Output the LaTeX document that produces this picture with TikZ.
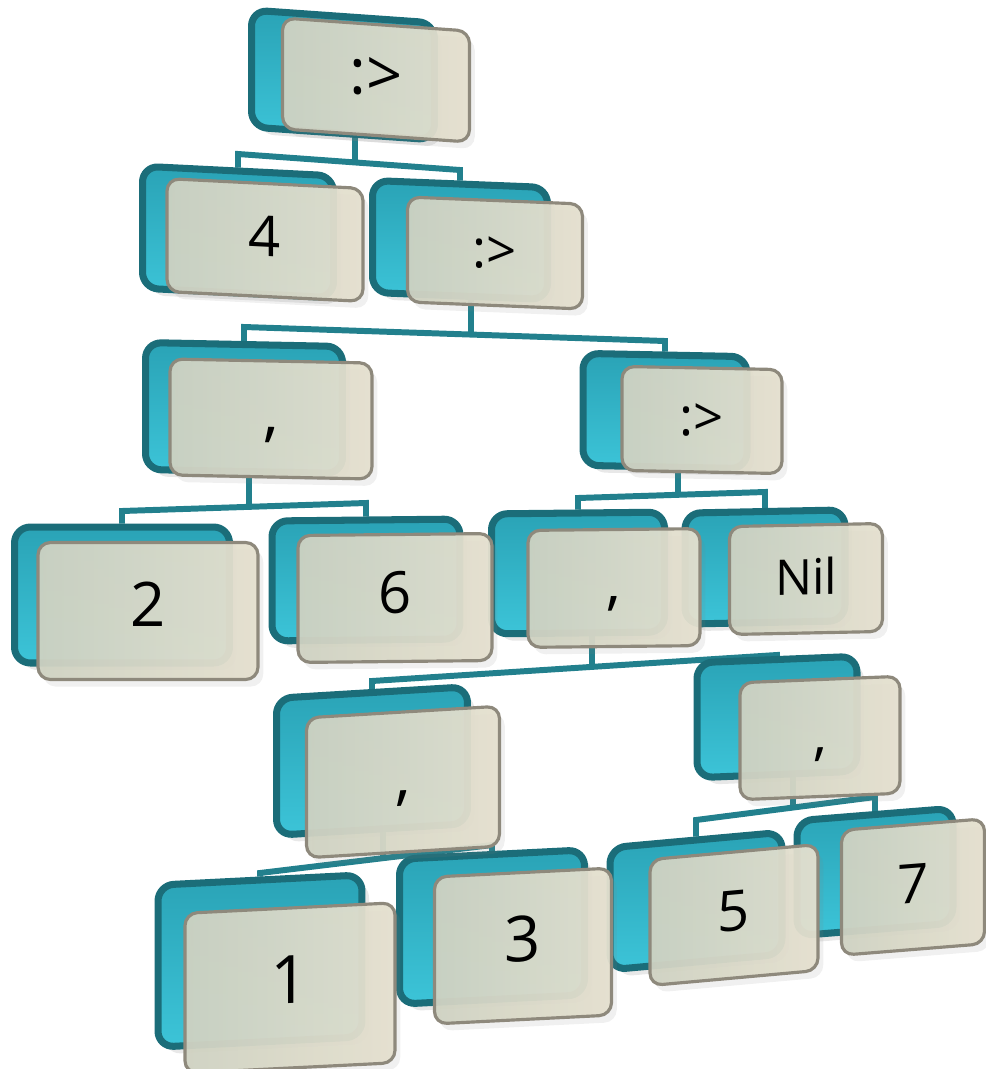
\documentclass[tikz,border=0pt]{standalone}
\usepackage{fontspec}
\setmainfont{Open Sans}
\usepackage{xcolor}
\usepackage{tikz}
\usetikzlibrary{shadows,backgrounds}

\definecolor{tealdark}{HTML}{1B6D79}
\definecolor{tealmid}{HTML}{2AA3B6}
\definecolor{tealbright}{HTML}{3CC4D8}
\definecolor{linkteal}{HTML}{22808D}
\definecolor{panelleft}{HTML}{CFD2C2}
\definecolor{panelright}{HTML}{E5E0CF}
\definecolor{paneledge}{HTML}{8E897C}

\tikzset{
  back/.style={draw=tealdark, line width=4pt, rounded corners=9pt,
    top color=tealmid, bottom color=tealbright, inner sep=0pt,
    drop shadow={opacity=0.18, shadow xshift=4pt, shadow yshift=-4pt}},
  front/.style={draw=paneledge, line width=1.8pt, rounded corners=7pt,
    left color=panelleft, right color=panelright, fill opacity=0.95,
    text opacity=1, inner sep=0pt, text height=24pt, text depth=6pt,
    drop shadow={opacity=0.12, shadow xshift=3pt, shadow yshift=-4pt}},
  link/.style={draw=linkteal, line width=3.4pt},
  fs/.style={font=\fontsize{#1}{#1}\selectfont}
}

\begin{document}
\begin{tikzpicture}[x=0.02cm, y=-0.02cm]

\useasboundingbox (0,0) rectangle (985,1069);

% teal boxes at the back
\node[back, yslant=-0.07, minimum width=3.66cm, minimum height=2.34cm] (root-b) at (343,75) {};
\node[back, yslant=-0.05, minimum width=3.82cm, minimum height=2.44cm] (four-b) at (238,232) {};
\node[back, yslant=-0.04, minimum width=3.5cm, minimum height=2.24cm] (cons1-b) at (460,240) {};
\node[back, yslant=-0.02, minimum width=3.94cm, minimum height=2.54cm] (pairA-b) at (244,408) {};
\node[back, yslant=-0.02, minimum width=3.28cm, minimum height=2.24cm] (cons2-b) at (665,411) {};
\node[back, minimum width=4.3cm, minimum height=2.72cm] (two-b) at (122,595) {};
\node[back, yslant=0.01, minimum width=3.76cm, minimum height=2.4cm] (six-b) at (366,580) {};
\node[back, yslant=0.01, minimum width=3.46cm, minimum height=2.4cm] (pairB-b) at (578,573) {};
\node[back, yslant=0.02, minimum width=3.2cm, minimum height=2.22cm] (nil-b) at (765,567) {};
\node[back, yslant=0.06, minimum width=3.82cm, minimum height=2.74cm] (pairC-b) at (372,761) {};
\node[back, yslant=0.04, minimum width=3.2cm, minimum height=2.3cm] (pairD-b) at (777,717) {};
\node[back, yslant=0.05, minimum width=4.08cm, minimum height=3.24cm] (one-b) at (260,961) {};
\node[back, yslant=0.05, minimum width=3.7cm, minimum height=2.9cm] (three-b) at (492,927) {};
\node[back, yslant=0.09, minimum width=3.44cm, minimum height=2.44cm] (five-b) at (696,901) {};
\node[back, yslant=0.08, minimum width=3.12cm, minimum height=2.3cm] (seven-b) at (875,872) {};

% beige panels in front
\node[front, fs=36, yslant=-0.07, minimum width=3.74cm, minimum height=2.22cm] (root-f) at (376,80) {:>};
\node[front, fs=32, yslant=-0.05, minimum width=3.92cm, minimum height=2.26cm] (four-f) at (265,240) {4};
\node[front, fs=30, yslant=-0.04, minimum width=3.5cm, minimum height=2.1cm] (cons1-f) at (495,253) {:>};
\node[front, fs=36, yslant=-0.02, minimum width=4.04cm, minimum height=2.32cm] (pairA-f) at (271,419) {,};
\node[front, fs=30, yslant=-0.02, minimum width=3.2cm, minimum height=2.08cm] (cons2-f) at (702,420) {:>};
\node[front, fs=35, minimum width=4.4cm, minimum height=2.74cm] (two-f) at (148,611) {2};
\node[front, fs=33, yslant=0.01, minimum width=3.88cm, minimum height=2.54cm] (six-f) at (395,598) {6};
\node[front, fs=34, yslant=0.01, minimum width=3.44cm, minimum height=2.34cm] (pairB-f) at (614,588) {,};
\node[front, fs=28, yslant=0.02, minimum width=3.06cm, minimum height=2.16cm] (nil-f) at (806,579) {Nil};
\node[front, fs=36, yslant=0.06, minimum width=3.86cm, minimum height=2.8cm] (pairC-f) at (403,782) {,};
\node[front, fs=32, yslant=0.04, minimum width=3.2cm, minimum height=2.34cm] (pairD-f) at (820,738) {,};
\node[front, fs=38, yslant=0.05, minimum width=4.2cm, minimum height=3.2cm] (one-f) at (290,988) {1};
\node[front, fs=36, yslant=0.05, minimum width=3.54cm, minimum height=2.94cm] (three-f) at (523,946) {3};
\node[front, fs=32, yslant=0.09, minimum width=3.36cm, minimum height=2.52cm] (five-f) at (734,915) {5};
\node[front, fs=31, yslant=0.08, minimum width=2.86cm, minimum height=2.5cm] (seven-f) at (913,887) {7};

% bars between levels
\coordinate (j0) at (355,162);   \coordinate (j0l) at (238,154); \coordinate (j0r) at (460,170);
\coordinate (j1) at (471,334.5); \coordinate (j1l) at (244,327); \coordinate (j1r) at (665,341);
\coordinate (j2) at (249,506.8); \coordinate (j2l) at (122,511); \coordinate (j2r) at (366,503);
\coordinate (j3) at (678,494.8); \coordinate (j3l) at (578,498); \coordinate (j3r) at (765,492);
\coordinate (j4) at (592,666.9); \coordinate (j4l) at (372,681); \coordinate (j4r) at (777,655);
\coordinate (j5) at (383,858.2); \coordinate (j5l) at (260,873); \coordinate (j5r) at (492,845);
\coordinate (j6) at (793,807.5); \coordinate (j6l) at (696,820); \coordinate (j6r) at (875,797);

\begin{scope}[on background layer]

\draw[link] (j0 |- root-f.center) -- (j0);
\draw[link] (four-b.north) -- (j0l) -- (j0r) -- (cons1-b.north);

\draw[link] (j1 |- cons1-f.center) -- (j1);
\draw[link] (pairA-b.north) -- (j1l) -- (j1r) -- (cons2-b.north);

\draw[link] (j2 |- pairA-f.center) -- (j2);
\draw[link] (two-b.north) -- (j2l) -- (j2r) -- (six-b.north);

\draw[link] (j3 |- cons2-f.center) -- (j3);
\draw[link] (pairB-b.north) -- (j3l) -- (j3r) -- (nil-b.north);

\draw[link] (j4 |- pairB-f.center) -- (j4);
\draw[link] (pairC-b.north) -- (j4l) -- (j4r) -- (pairD-b.north);

\draw[link] (j5 |- pairC-f.center) -- (j5);
\draw[link] (one-b.north) -- (j5l) -- (j5r) -- (three-b.north);

\draw[link] (j6 |- pairD-f.center) -- (j6);
\draw[link] (five-b.north) -- (j6l) -- (j6r) -- (seven-b.north);

\end{scope}

\end{tikzpicture}
\end{document}
